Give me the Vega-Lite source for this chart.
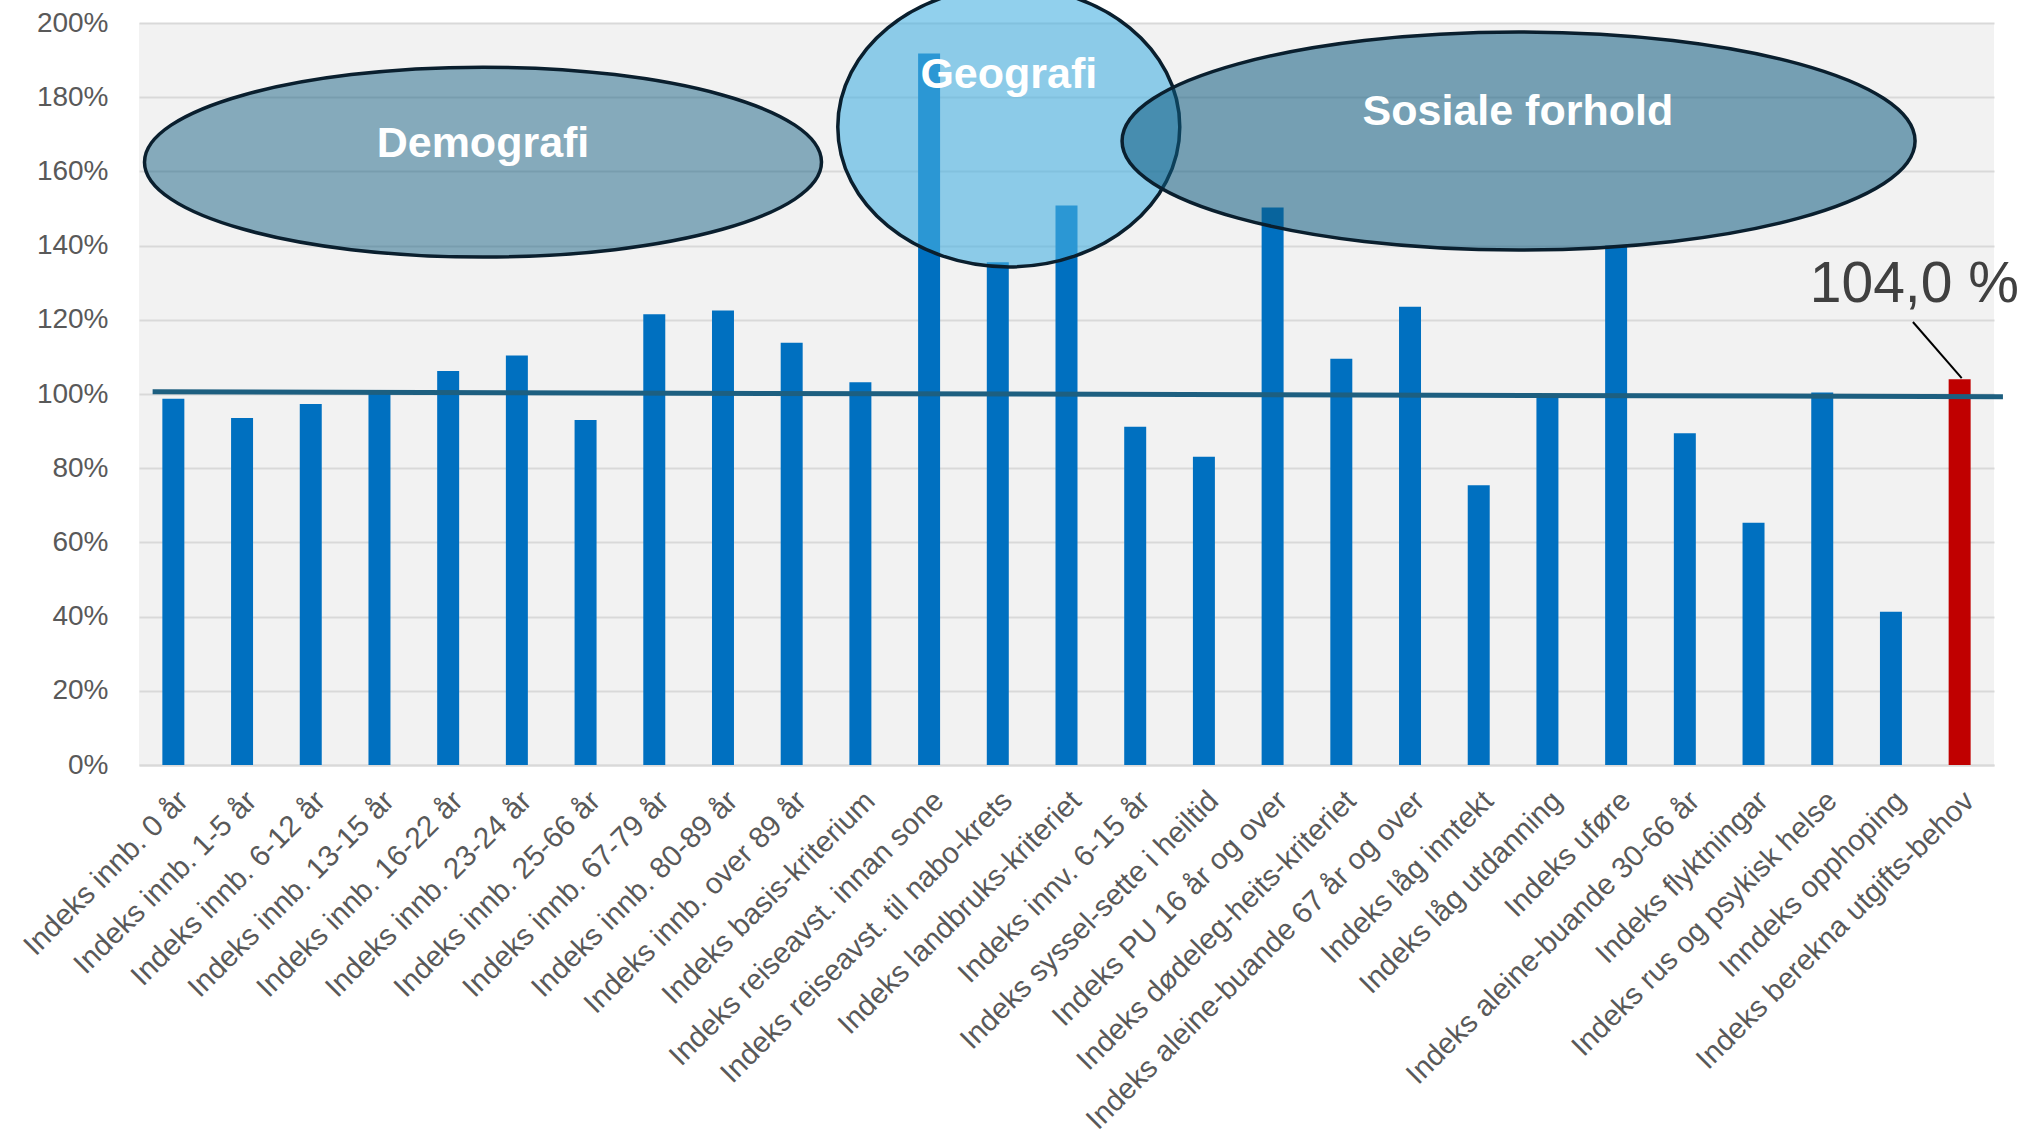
{
  "$schema": "https://vega.github.io/schema/vega-lite/v6.json",
  "autosize": {"type": "none"},
  "width": 1855,
  "height": 742,
  "padding": {"left": 139, "top": 23, "right": 42, "bottom": 373},
  "background": "white",
  "config": {
    "view": {"fill": "#F2F2F2", "stroke": null},
    "font": "Liberation Sans"
  },
  "datasets": {
    "indeksar": [
      {"kriterium": "Indeks innb. 0 år", "verdi": 0.987, "gruppe": "delindeks"},
      {"kriterium": "Indeks innb. 1-5 år", "verdi": 0.935, "gruppe": "delindeks"},
      {"kriterium": "Indeks innb. 6-12 år", "verdi": 0.973, "gruppe": "delindeks"},
      {"kriterium": "Indeks innb. 13-15 år", "verdi": 1.005, "gruppe": "delindeks"},
      {"kriterium": "Indeks innb. 16-22 år", "verdi": 1.062, "gruppe": "delindeks"},
      {"kriterium": "Indeks innb. 23-24 år", "verdi": 1.104, "gruppe": "delindeks"},
      {"kriterium": "Indeks innb. 25-66 år", "verdi": 0.930, "gruppe": "delindeks"},
      {"kriterium": "Indeks innb. 67-79 år", "verdi": 1.215, "gruppe": "delindeks"},
      {"kriterium": "Indeks innb. 80-89 år", "verdi": 1.225, "gruppe": "delindeks"},
      {"kriterium": "Indeks innb. over 89 år", "verdi": 1.138, "gruppe": "delindeks"},
      {"kriterium": "Indeks basis-kriterium", "verdi": 1.032, "gruppe": "delindeks"},
      {"kriterium": "Indeks reiseavst. innan sone", "verdi": 1.918, "gruppe": "delindeks"},
      {"kriterium": "Indeks reiseavst. til nabo-krets", "verdi": 1.355, "gruppe": "delindeks"},
      {"kriterium": "Indeks landbruks-kriteriet", "verdi": 1.508, "gruppe": "delindeks"},
      {"kriterium": "Indeks innv. 6-15 år", "verdi": 0.912, "gruppe": "delindeks"},
      {"kriterium": "Indeks syssel-sette i heiltid", "verdi": 0.831, "gruppe": "delindeks"},
      {"kriterium": "Indeks PU 16 år og over", "verdi": 1.503, "gruppe": "delindeks"},
      {"kriterium": "Indeks dødeleg-heits-kriteriet", "verdi": 1.095, "gruppe": "delindeks"},
      {"kriterium": "Indeks aleine-buande 67 år og over", "verdi": 1.235, "gruppe": "delindeks"},
      {"kriterium": "Indeks låg inntekt", "verdi": 0.754, "gruppe": "delindeks"},
      {"kriterium": "Indeks låg utdanning", "verdi": 0.997, "gruppe": "delindeks"},
      {"kriterium": "Indeks uføre", "verdi": 1.40, "gruppe": "delindeks"},
      {"kriterium": "Indeks aleine-buande 30-66 år", "verdi": 0.894, "gruppe": "delindeks"},
      {"kriterium": "Indeks flyktningar", "verdi": 0.653, "gruppe": "delindeks"},
      {"kriterium": "Indeks rus og psykisk helse", "verdi": 1.004, "gruppe": "delindeks"},
      {"kriterium": "Inndeks opphoping", "verdi": 0.413, "gruppe": "delindeks"},
      {"kriterium": "Indeks berekna utgifts-behov", "verdi": 1.040, "gruppe": "samla"}
    ]
  },
  "layer": [
    {
      "data": {"name": "indeksar"},
      "mark": {"type": "bar"},
      "encoding": {
        "x": {
          "field": "kriterium", "type": "nominal", "sort": null,
          "scale": {"paddingInner": 0.68, "paddingOuter": 0.34},
          "axis": {
            "title": null, "labelAngle": -45, "labelFontSize": 29.5, "labelColor": "#595959",
            "labelLimit": 0, "labelOverlap": false, "ticks": false, "labelPadding": 21,
            "domain": true, "domainColor": "#D9D9D9", "domainWidth": 2, "grid": false
          }
        },
        "y": {
          "field": "verdi", "type": "quantitative",
          "scale": {"domain": [0, 2], "nice": false},
          "axis": {
            "title": null, "format": ".0%", "values": [0, 0.2, 0.4, 0.6, 0.8, 1, 1.2, 1.4, 1.6, 1.8, 2],
            "labelFontSize": 28, "labelColor": "#595959", "ticks": false, "domain": false,
            "labelPadding": 31, "gridColor": "#D9D9D9", "gridWidth": 2
          }
        },
        "color": {
          "field": "gruppe", "type": "nominal",
          "scale": {"domain": ["delindeks", "samla"], "range": ["#0070C0", "#C00000"]},
          "legend": null
        }
      }
    },
    {
      "data": {"values": [
        {"merknad": "Demografi", "xs": 5.007, "ys": 1.625, "xt": 5.007, "yt": 1.639},
        {"merknad": "Geografi", "xs": 12.66, "ys": 1.72, "xt": 12.66, "yt": 1.825},
        {"merknad": "Sosiale forhold", "xs": 20.08, "ys": 1.682, "xt": 20.07, "yt": 1.725},
        {"merknad": "snitt", "x1": 0.198, "y1": 1.006, "x2": 27.13, "y2": 0.9927},
        {"merknad": "peikar", "x1": 25.82, "y1": 1.194, "x2": 26.53, "y2": 1.043, "tekst": "104,0 %", "xt": 25.84, "yt": 1.249}
      ]},
      "layer": [
        {
          "transform": [{"filter": "datum.merknad === 'snitt'"}],
          "mark": {"type": "rule", "color": "#1D5F80", "strokeWidth": 5, "clip": false},
          "encoding": {
            "x": {"field": "x1", "type": "quantitative", "scale": {"domain": [0, 27], "nice": false, "zero": false}, "axis": null},
            "x2": {"field": "x2"},
            "y": {"field": "y1", "type": "quantitative"},
            "y2": {"field": "y2"}
          }
        },
        {
          "transform": [{"filter": "datum.merknad === 'Demografi'"}],
          "mark": {"type": "point", "filled": true, "shape": "M -1 0 A 1 0.2806 0 1 1 1 0 A 1 0.2806 0 1 1 -1 0 Z", "size": 458329, "fill": "#0E5B7F", "fillOpacity": 0.48, "stroke": "#0A1F2E", "strokeWidth": 3.5, "strokeOpacity": 1, "opacity": 1, "clip": false},
          "encoding": {
            "x": {"field": "xs", "type": "quantitative", "scale": {"domain": [0, 27], "nice": false, "zero": false}, "axis": null},
            "y": {"field": "ys", "type": "quantitative"}
          }
        },
        {
          "transform": [{"filter": "datum.merknad === 'Geografi'"}],
          "mark": {"type": "point", "filled": true, "shape": "M -1 0 A 1 0.819 0 1 1 1 0 A 1 0.819 0 1 1 -1 0 Z", "size": 116964, "fill": "#48B1E1", "fillOpacity": 0.6, "stroke": "#0A1F2E", "strokeWidth": 3.5, "strokeOpacity": 1, "opacity": 1, "clip": false},
          "encoding": {
            "x": {"field": "xs", "type": "quantitative", "scale": {"domain": [0, 27], "nice": false, "zero": false}, "axis": null},
            "y": {"field": "ys", "type": "quantitative"}
          }
        },
        {
          "transform": [{"filter": "datum.merknad === 'Sosiale forhold'"}],
          "mark": {"type": "point", "filled": true, "shape": "M -1 0 A 1 0.275 0 1 1 1 0 A 1 0.275 0 1 1 -1 0 Z", "size": 628849, "fill": "#0E5B7F", "fillOpacity": 0.55, "stroke": "#0A1F2E", "strokeWidth": 3.5, "strokeOpacity": 1, "opacity": 1, "clip": false},
          "encoding": {
            "x": {"field": "xs", "type": "quantitative", "scale": {"domain": [0, 27], "nice": false, "zero": false}, "axis": null},
            "y": {"field": "ys", "type": "quantitative"}
          }
        },
        {
          "transform": [{"filter": "datum.merknad === 'Demografi' || datum.merknad === 'Geografi' || datum.merknad === 'Sosiale forhold'"}],
          "mark": {"type": "text", "color": "white", "fontWeight": "bold", "fontSize": 43, "align": "center", "baseline": "alphabetic", "font": "Liberation Sans", "clip": false},
          "encoding": {
            "x": {"field": "xt", "type": "quantitative", "scale": {"domain": [0, 27], "nice": false, "zero": false}, "axis": null},
            "y": {"field": "yt", "type": "quantitative"},
            "text": {"field": "merknad"}
          }
        },
        {
          "transform": [{"filter": "datum.merknad === 'peikar'"}],
          "mark": {"type": "rule", "color": "#000000", "strokeWidth": 2, "clip": false},
          "encoding": {
            "x": {"field": "x1", "type": "quantitative", "scale": {"domain": [0, 27], "nice": false, "zero": false}, "axis": null},
            "x2": {"field": "x2"},
            "y": {"field": "y1", "type": "quantitative"},
            "y2": {"field": "y2"}
          }
        },
        {
          "transform": [{"filter": "datum.merknad === 'peikar'"}],
          "mark": {"type": "text", "color": "#404040", "fontSize": 57, "align": "center", "baseline": "alphabetic", "font": "Liberation Sans", "clip": false},
          "encoding": {
            "x": {"field": "xt", "type": "quantitative", "scale": {"domain": [0, 27], "nice": false, "zero": false}, "axis": null},
            "y": {"field": "yt", "type": "quantitative"},
            "text": {"field": "tekst"}
          }
        }
      ]
    }
  ],
  "resolve": {"scale": {"x": "independent"}, "axis": {"x": "independent"}}
}
